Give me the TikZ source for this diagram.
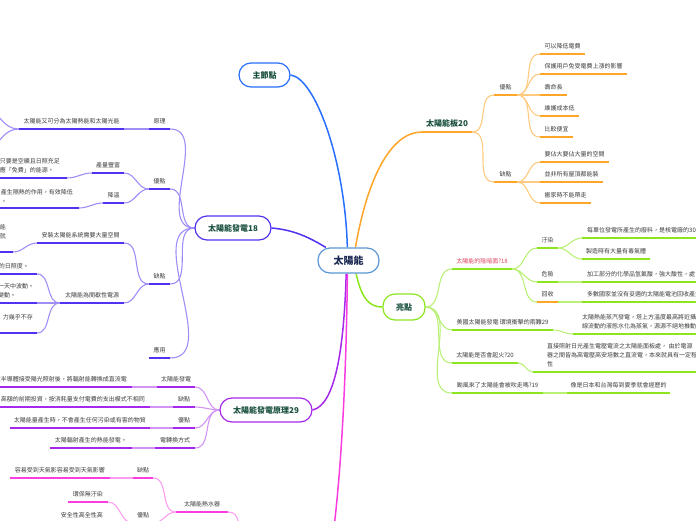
\documentclass[tikz,border=0pt]{standalone}
\usepackage{fontspec}
\setmainfont{Noto Sans CJK TC}
\usepackage{tikz}
\usepackage{xcolor}
\usetikzlibrary{backgrounds}
\definecolor{sunline}{RGB}{90,150,210}
\definecolor{sunnavy}{RGB}{25,40,80}
\definecolor{hubtext}{RGB}{25,80,60}
\definecolor{leaftext}{RGB}{60,60,60}
\definecolor{boardorange}{RGB}{255,165,40}
\definecolor{mapgreen}{RGB}{140,230,30}
\definecolor{mainblue}{RGB}{40,110,255}
\definecolor{genblue}{RGB}{80,50,240}
\definecolor{prinpurple}{RGB}{165,40,235}
\definecolor{heatpink}{RGB}{250,60,225}
\definecolor{shadepink}{RGB}{220,70,100}

\begin{document}
\begin{tikzpicture}[x=1pt, y=-1pt]
  % Define the styles for the boxes, the labels and the branches
  \tikzstyle{hub}=[draw=#1, line width=1.2pt, fill=white, rounded corners=12pt, minimum height=24pt, inner sep=0pt, font=\fontsize{8}{10}\selectfont\bfseries, text=hubtext]
  \tikzstyle{lbl}=[anchor=south, inner xsep=2pt, inner ysep=4.5pt, font=\fontsize{6}{9}\selectfont, text=leaftext]
  \tikzstyle{bar}=[append after command={(\tikzlastnode.south west) edge[draw=#1, line width=1.8pt] (\tikzlastnode.south east)}]
  \tikzstyle{far}=[lbl, anchor=south west, align=left]
  \tikzstyle{back}=[lbl, anchor=south east, align=left]
  \tikzstyle{link}=[draw=#1, line width=1.1pt]

  % Fix the size of the page
  \useasboundingbox (0,0) rectangle (696,520);
  \clip (0,0) rectangle (696,520);

  % Central topic and the boxed main topics
  \node[hub=sunline, minimum width=61pt, minimum height=25pt, font=\fontsize{10}{12}\selectfont\bfseries, text=sunnavy] (sun) at (348.5,260.5) {太陽能};
  \node[hub=mainblue, minimum width=51pt] (main) at (264.5,75) {主節點};
  \node[hub=genblue, minimum width=76pt] (gen) at (233,228) {太陽能發電18};
  \node[hub=prinpurple, minimum width=92pt] (prin) at (266,410) {太陽能發電原理29};
  \node[hub=mapgreen, minimum width=42pt, minimum height=26pt] (hl) at (404,307) {亮點};

  % Off-page ends of branches
  \coordinate (offA) at (-25,100);
  \coordinate (offB) at (-25,158);
  \coordinate (heatL) at (250,565);
  \coordinate (heatR) at (325,580);

  % Solar panel branch
  \node[lbl, bar=boardorange, minimum width=50pt, font=\fontsize{8}{10}\selectfont\bfseries, text=hubtext] (board) at (447,132) {太陽能板20};
  \node[lbl, bar=boardorange, minimum width=23pt] (bpro) at (505.5,95) {優點};
  \node[lbl, bar=boardorange, minimum width=23pt] (bcon) at (505.5,182) {缺點};
  \node[lbl, bar=boardorange, minimum width=45pt] (b1) at (562.5,54) {可以降低電費};
  \node[lbl, bar=boardorange, minimum width=87pt] (b2) at (583.5,74) {保護用戶免受電費上漲的影響};
  \node[lbl, bar=boardorange, minimum width=27pt] (b3) at (553.5,95) {壽命長};
  \node[lbl, bar=boardorange, minimum width=39pt] (b4) at (559.5,116) {維護成本低};
  \node[lbl, bar=boardorange, minimum width=33pt] (b5) at (556.5,137) {比較便宜};
  \node[lbl, bar=boardorange, minimum width=69pt] (b6) at (574.5,162) {要佔大要佔大量的空間};
  \node[lbl, bar=boardorange, minimum width=63pt] (b7) at (571.5,182) {並非所有屋頂都能裝};
  \node[lbl, bar=boardorange, minimum width=51pt] (b8) at (565.5,203) {搬家時不能帶走};

  % Highlights branch
  \node[lbl, bar=mapgreen, minimum width=60pt, text=shadepink] (dark) at (482,269) {太陽能的陰暗面?18};
  \node[lbl, bar=mapgreen, minimum width=21pt] (pol) at (547.5,248) {汙染};
  \node[lbl, bar=mapgreen, minimum width=21pt] (dng) at (547.5,282) {危險};
  \node[lbl, bar=boardorange, minimum width=21pt] (rec) at (547.5,302) {回收};
  \node[far, bar=mapgreen, inner xsep=5pt] (p1) at (582,238) {每單位發電所產生的廢料，是核電廠的30};
  \node[lbl, bar=mapgreen, minimum width=68pt] (p2) at (616,259) {製造時有大量有毒氣體};
  \node[far, bar=mapgreen, inner xsep=5pt] (d1) at (582,282) {加工部分的化學品氫氟酸，強大酸性，處};
  \node[far, bar=mapgreen, inner xsep=5pt] (r1) at (582,302) {多數國家並沒有妥適的太陽能電池回收產生};
  \node[lbl, bar=mapgreen, minimum width=101pt] (us) at (502.5,330) {美國太陽能發電 環境衝擊的兩難29};
  \node[far, bar=mapgreen, inner xsep=9pt] (u1) at (573,334) {太陽熱能蒸汽發電，塔上方溫度最高將近攝\\線流動的液態水化為蒸氣，源源不絕地推動};
  \node[lbl, bar=mapgreen, minimum width=66pt] (fire) at (485,363) {太陽能是否會起火?20};
  \node[far, bar=mapgreen, inner xsep=14pt] (f1) at (533,372) {直接照射日光產生電壓電流之太陽能面板處， 由於電源\\器之間皆為高電壓高安培數之直流電，本來就具有一定程\\性};
  \node[lbl, bar=mapgreen, minimum width=91pt] (typh) at (497.5,393) {颱風來了太陽能會被吹走嗎?19};
  \node[lbl, bar=mapgreen, minimum width=103pt] (t1) at (618.5,393) {像是日本和台灣每到夏季就會經歷的};

  % Solar power branch
  \node[lbl, bar=genblue, minimum width=21pt] (gp) at (159.5,129) {原理};
  \node[lbl, bar=genblue, minimum width=21pt] (ga) at (159.5,189) {優點};
  \node[lbl, bar=genblue, minimum width=21pt] (gd) at (159.5,284) {缺點};
  \node[lbl, bar=genblue, minimum width=21pt] (gu) at (159.5,358) {應用};
  \node[lbl, bar=genblue, minimum width=105pt] (gp1) at (71.5,129) {太陽能又可分為太陽熱能和太陽光能};
  \node[lbl, bar=genblue, minimum width=32pt] (ga1) at (108,173) {產量豐富};
  \node[lbl, bar=genblue, minimum width=21pt] (ga2) at (113.5,203) {降溫};
  \node[back, bar=genblue, inner xsep=7pt] (gaa) at (67,178) {，只要是空曠且日照充足\\供應「免費」的能源。};
  \node[back, bar=genblue, inner xsep=6pt] (gab) at (79,208) {產生隔熱的作用，有效降低\\。};
  \node[lbl, bar=genblue, minimum width=87pt] (gd1) at (80.5,243) {安裝太陽能系統需要大量空間};
  \node[lbl, bar=genblue, minimum width=64pt] (gd2) at (92,303) {太陽能為間歇性電源};
  \node[back, bar=genblue, inner xsep=7pt] (gda) at (13,252) {能\\就\\\mbox{}};
  \node[back, bar=genblue, inner xsep=8pt] (gdb1) at (37,274) {間的日照度。};
  \node[far, bar=genblue, inner xsep=3pt] (gdb2) at (-5,303) {一天中波動。\\變動。};
  \node[back, bar=genblue, inner xsep=4pt] (gdb3) at (37,333) {力幾乎不存\\\mbox{}};

  % Principle branch
  \node[lbl, bar=prinpurple, minimum width=38pt] (pa) at (176,387) {太陽能發電};
  \node[lbl, bar=prinpurple, minimum width=22pt] (pb) at (184,407) {缺點};
  \node[lbl, bar=prinpurple, minimum width=22pt] (pc) at (184,428) {優點};
  \node[lbl, bar=prinpurple, minimum width=40pt] (pd) at (175,448) {電轉換方式};
  \node[back, bar=prinpurple, inner xsep=5pt] (paa) at (132,387) {太半導體接受陽光照射後，將輻射能轉換成直流電};
  \node[back, bar=prinpurple, inner xsep=5pt] (pba) at (150,407) {高額的前期投資，按消耗量支付電費的支出模式不相同};
  \node[back, bar=prinpurple, inner xsep=4pt] (pca) at (150,428) {太陽能量產生時，不會產生任何污染或有害的物質};
  \node[back, bar=prinpurple, inner xsep=5pt] (pda) at (132,448) {太陽輻射產生的熱能發電。};

  % Water heater branch
  \node[lbl, bar=heatpink, minimum width=52pt] (wh) at (202,512) {太陽能熱水器};
  \node[lbl, bar=heatpink, minimum width=20pt] (wc) at (143,478) {缺點};
  \node[lbl, bar=heatpink, minimum width=20pt] (wp) at (143,523) {優點};
  \node[back, bar=heatpink, inner xsep=5pt] (wca) at (110,478) {容易受到天氣影容易受到天氣影響};
  \node[back, bar=heatpink, inner xsep=5pt] (wpa) at (108,502) {環保無汙染};
  \node[back, bar=heatpink, inner xsep=5pt] (wpb) at (108,523) {安全性高全性高};

  % Connectors behind the boxes
  \begin{scope}[on background layer]
    % Main branches leaving the centre
    \draw[link=mainblue, line width=1.5pt] (sun.95) .. controls (345,160) and (315,78) .. (main.east);
    \draw[link=boardorange, line width=1.5pt] (sun.62) .. controls (368,175) and (392,132) .. (board.south west);
    \draw[link=genblue, line width=1.5pt] (gen.east) .. controls (295,230) and (310,238) .. (sun.150);
    \draw[link=prinpurple, line width=1.5pt] (sun.-100) .. controls (344,350) and (335,405) .. (prin.east);
    \draw[link=heatpink, line width=1.5pt] (sun.-95) .. controls (346,420) and (336,540) .. (heatR);
    \draw[link=mapgreen, line width=1.5pt] (sun.-60) .. controls (362,300) and (370,307) .. (hl.west);

    % Solar panel branch
    \draw[link=boardorange!60] (board.south east) to[out=0, in=180] (bpro.south west);
    \draw[link=boardorange!60] (board.south east) to[out=0, in=180] (bcon.south west);
    \draw[link=boardorange!60] (bpro.south east) to[out=0, in=180] (b1.south west);
    \draw[link=boardorange!60] (bpro.south east) to[out=0, in=180] (b2.south west);
    \draw[link=boardorange!60] (bpro.south east) to[out=0, in=180] (b3.south west);
    \draw[link=boardorange!60] (bpro.south east) to[out=0, in=180] (b4.south west);
    \draw[link=boardorange!60] (bpro.south east) to[out=0, in=180] (b5.south west);
    \draw[link=boardorange!60] (bcon.south east) to[out=0, in=180] (b6.south west);
    \draw[link=boardorange!60] (bcon.south east) to[out=0, in=180] (b7.south west);
    \draw[link=boardorange!60] (bcon.south east) to[out=0, in=180] (b8.south west);

    % Highlights branch
    \draw[link=mapgreen!60] (hl.east) to[out=0, in=180] (dark.south west);
    \draw[link=mapgreen!60] (hl.east) to[out=0, in=180] (us.south west);
    \draw[link=mapgreen!60] (hl.east) to[out=0, in=180] (fire.south west);
    \draw[link=mapgreen!60] (hl.east) to[out=0, in=180] (typh.south west);
    \draw[link=mapgreen!60] (dark.south east) to[out=0, in=180] (pol.south west);
    \draw[link=mapgreen!60] (dark.south east) to[out=0, in=180] (dng.south west);
    \draw[link=mapgreen!60] (dark.south east) to[out=0, in=180] (rec.south west);
    \draw[link=mapgreen!60] (pol.south east) to[out=0, in=180] (p1.south west);
    \draw[link=mapgreen!60] (pol.south east) to[out=0, in=180] (p2.south west);
    \draw[link=mapgreen!60] (dng.south east) to[out=0, in=180] (d1.south west);
    \draw[link=mapgreen!60] (rec.south east) to[out=0, in=180] (r1.south west);
    \draw[link=mapgreen!60] (us.south east) to[out=0, in=180] (u1.south west);
    \draw[link=mapgreen!60] (fire.south east) to[out=0, in=180] (f1.south west);
    \draw[link=mapgreen!60] (typh.south east) to[out=0, in=180] (t1.south west);

    % Solar power branch
    \draw[link=genblue!55] (gen.west) to[out=180, in=0] (gp.south east);
    \draw[link=genblue!55] (gen.west) to[out=180, in=0] (ga.south east);
    \draw[link=genblue!55] (gen.west) to[out=180, in=0] (gd.south east);
    \draw[link=genblue!55] (gen.west) to[out=180, in=0] (gu.south east);
    \draw[link=genblue!55] (gp.south west) to[out=180, in=0] (gp1.south east);
    \draw[link=genblue!55] (gp1.south west) to[out=180, in=0] (offA);
    \draw[link=genblue!55] (gp1.south west) to[out=180, in=0] (offB);
    \draw[link=genblue!55] (ga.south west) to[out=180, in=0] (ga1.south east);
    \draw[link=genblue!55] (ga.south west) to[out=180, in=0] (ga2.south east);
    \draw[link=genblue!55] (ga1.south west) to[out=180, in=0] (gaa.south east);
    \draw[link=genblue!55] (ga2.south west) to[out=180, in=0] (gab.south east);
    \draw[link=genblue!55] (gd.south west) to[out=180, in=0] (gd1.south east);
    \draw[link=genblue!55] (gd.south west) to[out=180, in=0] (gd2.south east);
    \draw[link=genblue!55] (gd1.south west) to[out=180, in=0] (gda.south east);
    \draw[link=genblue!55] (gd2.south west) to[out=180, in=0] (gdb1.south east);
    \draw[link=genblue!55] (gd2.south west) to[out=180, in=0] (gdb2.south east);
    \draw[link=genblue!55] (gd2.south west) to[out=180, in=0] (gdb3.south east);

    % Principle branch
    \draw[link=prinpurple!50] (prin.west) to[out=180, in=0] (pa.south east);
    \draw[link=prinpurple!50] (prin.west) to[out=180, in=0] (pb.south east);
    \draw[link=prinpurple!50] (prin.west) to[out=180, in=0] (pc.south east);
    \draw[link=prinpurple!50] (prin.west) to[out=180, in=0] (pd.south east);
    \draw[link=prinpurple!50] (pa.south west) to[out=180, in=0] (paa.south east);
    \draw[link=prinpurple!50] (pb.south west) to[out=180, in=0] (pba.south east);
    \draw[link=prinpurple!50] (pc.south west) to[out=180, in=0] (pca.south east);
    \draw[link=prinpurple!50] (pd.south west) to[out=180, in=0] (pda.south east);

    % Water heater branch
    \draw[link=heatpink!50] (heatL) to[out=180, in=0] (wh.south east);
    \draw[link=heatpink!50] (wh.south west) to[out=180, in=0] (wc.south east);
    \draw[link=heatpink!50] (wh.south west) to[out=180, in=0] (wp.south east);
    \draw[link=heatpink!50] (wc.south west) to[out=180, in=0] (wca.south east);
    \draw[link=heatpink!50] (wp.south west) to[out=180, in=0] (wpa.south east);
    \draw[link=heatpink!50] (wp.south west) to[out=180, in=0] (wpb.south east);
  \end{scope}
\end{tikzpicture}
\end{document}
